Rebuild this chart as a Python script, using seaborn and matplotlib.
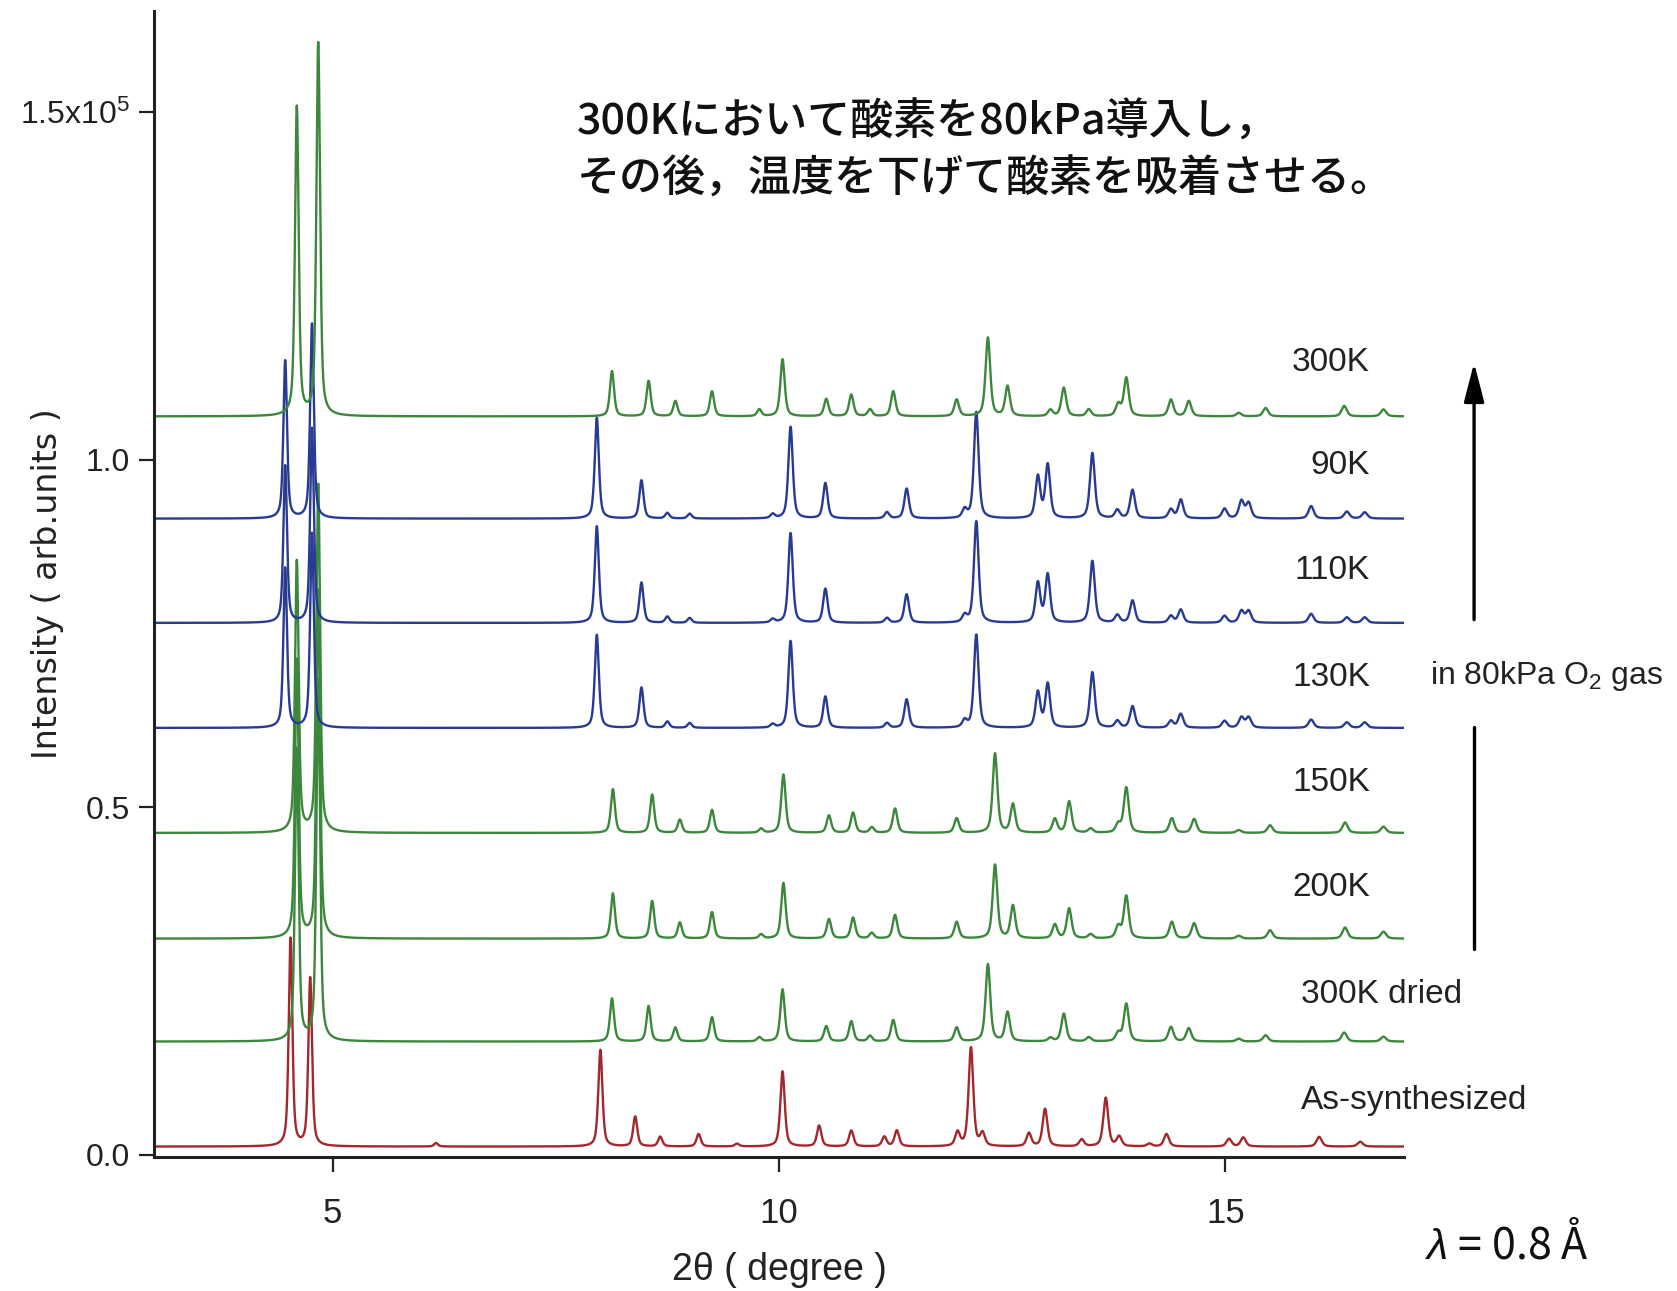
import numpy as np
import pandas as pd
import matplotlib
matplotlib.use("Agg")
import matplotlib.pyplot as plt
from matplotlib.lines import Line2D
import seaborn as sns

# ---------------- data ----------------
samples = ["As-synthesized", "300K dried", "200K", "150K", "130K", "110K", "90K", "300K"]
offsets = [0.012, 0.163, 0.311, 0.463, 0.614, 0.765, 0.915, 1.062]
colors = ["#a3282e", "#3b873b", "#3b873b", "#3b873b", "#283b93", "#283b93", "#283b93", "#3b873b"]

pos_as_syn = [4.53, 4.75, 6.16, 8.00, 8.39, 8.67, 9.10, 9.53, 10.04, 10.45, 10.81, 11.18, 11.32,
              12.00, 12.15, 12.28, 12.80, 12.98, 13.39, 13.66, 13.81, 14.15, 14.34, 15.04, 15.20,
              16.05, 16.51]
amp_as_syn = [0.299, 0.242, 0.005, 0.139, 0.043, 0.014, 0.018, 0.004, 0.108, 0.030, 0.023, 0.014,
              0.023, 0.020, 0.142, 0.018, 0.019, 0.054, 0.010, 0.070, 0.014, 0.004, 0.018, 0.011,
              0.013, 0.014, 0.007]

pos_green_rt = [4.60, 4.84, 8.13, 8.54, 8.84, 9.25, 9.78, 10.04, 10.53, 10.81, 11.02, 11.28, 11.99,
                12.34, 12.56, 13.04, 13.19, 13.47, 13.80, 13.89, 14.39, 14.59, 15.15, 15.45, 16.33,
                16.77]
amp_300K = [0.444, 0.536, 0.065, 0.051, 0.022, 0.036, 0.010, 0.082, 0.025, 0.031, 0.010, 0.036,
            0.024, 0.113, 0.043, 0.009, 0.041, 0.010, 0.017, 0.055, 0.024, 0.022, 0.005, 0.012,
            0.015, 0.010]
amp_dried = [0.42, 0.52, 0.062, 0.051, 0.020, 0.035, 0.006, 0.075, 0.022, 0.029, 0.008, 0.031,
             0.020, 0.111, 0.042, 0.005, 0.040, 0.006, 0.012, 0.054, 0.021, 0.019, 0.004, 0.009,
             0.013, 0.007]

pos_green_lt = [4.60, 4.84, 8.14, 8.58, 8.89, 9.25, 9.80, 10.05, 10.56, 10.83, 11.04, 11.30, 11.99,
                12.42, 12.62, 13.09, 13.25, 13.49, 13.80, 13.89, 14.40, 14.65, 15.15, 15.50, 16.34,
                16.77]
amp_150K = [0.39, 0.50, 0.063, 0.055, 0.019, 0.033, 0.006, 0.084, 0.025, 0.029, 0.008, 0.035,
            0.021, 0.114, 0.041, 0.020, 0.045, 0.006, 0.012, 0.065, 0.021, 0.020, 0.004, 0.011,
            0.015, 0.009]
amp_200K = [0.40, 0.50, 0.065, 0.054, 0.023, 0.038, 0.006, 0.080, 0.028, 0.030, 0.008, 0.034,
            0.024, 0.106, 0.047, 0.020, 0.043, 0.006, 0.017, 0.061, 0.024, 0.022, 0.004, 0.012,
            0.016, 0.010]

pos_blue = [4.47, 4.77, 7.96, 8.46, 8.75, 9.00, 9.93, 10.13, 10.52, 11.21, 11.43, 12.08, 12.21,
            12.90, 13.01, 13.51, 13.79, 13.96, 14.39, 14.50, 14.99, 15.18, 15.26, 15.96, 16.36,
            16.56]
amp_90K = [0.227, 0.28, 0.145, 0.055, 0.008, 0.007, 0.006, 0.132, 0.051, 0.009, 0.043, 0.012,
           0.153, 0.060, 0.077, 0.094, 0.012, 0.041, 0.013, 0.027, 0.014, 0.025, 0.022, 0.018,
           0.010, 0.009]
amp_110K = [0.226, 0.28, 0.139, 0.058, 0.009, 0.007, 0.005, 0.129, 0.049, 0.007, 0.041, 0.010,
            0.146, 0.057, 0.069, 0.089, 0.011, 0.032, 0.010, 0.019, 0.010, 0.017, 0.017, 0.013,
            0.008, 0.008]
amp_130K = [0.23, 0.28, 0.134, 0.058, 0.009, 0.007, 0.005, 0.125, 0.045, 0.007, 0.041, 0.010,
            0.134, 0.051, 0.063, 0.080, 0.010, 0.031, 0.010, 0.020, 0.010, 0.015, 0.015, 0.012,
            0.008, 0.008]

peak_pos = [pos_as_syn, pos_green_rt, pos_green_lt, pos_green_lt, pos_blue, pos_blue, pos_blue, pos_green_rt]
peak_amp = [amp_as_syn, amp_dried, amp_200K, amp_150K, amp_130K, amp_110K, amp_90K, amp_300K]

xticks = [5, 10, 15]
yticks = [0.0, 0.5, 1.0, 1.5]
ytick_labels = ["0.0", "0.5", "1.0", "1.5x10$^5$"]
label_y = [0.078, 0.231, 0.385, 0.536, 0.687, 0.841, 0.991, 1.139]

# ---------------- build curves ----------------
grid = np.linspace(3.0, 17.0, 5601)


def profile(x, c, a):
    w = 0.040 + 0.0018 * c
    lor = 1.0 / (1.0 + ((x - c) / (w / 2)) ** 2)
    gau = np.exp(-4 * np.log(2) * ((x - c) / w) ** 2)
    return a * (0.55 * lor + 0.45 * gau)


frames = []
for name, off, ps, am in zip(samples, offsets, peak_pos, peak_amp):
    y = np.full_like(grid, off)
    for c, a in zip(ps, am):
        y = y + profile(grid, c, a)
    frames.append(pd.DataFrame({"two_theta": grid, "intensity": y, "sample": name}))
df = pd.concat(frames, ignore_index=True)

# ---------------- plot ----------------
sns.set_theme(style="white")
plt.rcParams["font.family"] = ["Liberation Sans", "DejaVu Sans"]
plt.rcParams["mathtext.fontset"] = "custom"
plt.rcParams["mathtext.rm"] = "Liberation Sans"
plt.rcParams["mathtext.it"] = "Liberation Sans:italic"

TXT = "#222222"

fig = plt.figure(figsize=(16.77, 12.91), dpi=100)
ax = fig.add_axes([0.0918, 0.1038, 0.7454, 0.8877])

sns.lineplot(data=df, x="two_theta", y="intensity", hue="sample", hue_order=samples,
             palette=dict(zip(samples, colors)), estimator=None, sort=False, legend=False,
             linewidth=1.7, ax=ax)

ax.set_xlim(3.0, 17.0)
ax.set_ylim(-0.003, 1.645)
for s in ["top", "right"]:
    ax.spines[s].set_visible(False)
for s in ["left", "bottom"]:
    ax.spines[s].set_color(TXT)
    ax.spines[s].set_linewidth(2.2)

ax.set_xticks(xticks)
ax.set_xticklabels([str(t) for t in xticks], fontsize=25)
ax.set_yticks(yticks)
ax.set_yticklabels(ytick_labels, fontsize=23)
ax.tick_params(axis="x", bottom=True, direction="out", length=11, width=1.6, pad=18,
               color=TXT, labelcolor=TXT)
ax.tick_params(axis="y", left=True, direction="out", length=11, width=1.6, pad=6,
               color=TXT, labelcolor=TXT)

ax.set_xlabel("2θ ( degree )", fontsize=27, labelpad=16, color=TXT)
ax.set_ylabel("Intensity ( arb.units )", fontsize=24, family=["DejaVu Sans"], color=TXT)
ax.yaxis.set_label_coords(-0.072, 0.5)

for name, yl in zip(samples, label_y):
    if name in ("As-synthesized", "300K dried"):
        ax.text(15.85, yl, name, ha="left", va="center", fontsize=24, color=TXT)
    else:
        ax.text(16.62, yl, name, ha="right", va="center", fontsize=24, color=TXT)

# annotation text
fig.text(0.344, 0.9053, "300Kにおいて酸素を80kPa導入し，", fontsize=31, fontweight="medium",
         family=["Noto Sans CJK JP", "DejaVu Sans"], va="center", ha="left", color="#111111")
fig.text(0.344, 0.8611, "その後，温度を下げて酸素を吸着させる。", fontsize=31, fontweight="medium",
         family=["Noto Sans CJK JP", "DejaVu Sans"], va="center", ha="left", color="#111111")

fig.text(0.853, 0.4764, "in 80kPa O$_2$ gas", fontsize=23, va="center", ha="left", color=TXT)

fig.text(0.850, 0.035, "$\\lambda$ = 0.8 Å", fontsize=31, va="center", ha="left",
         family=["Noto Sans CJK JP", "DejaVu Sans"], color="#111111")

# arrow
fig.add_artist(Line2D([0.879, 0.879], [0.265, 0.437], transform=fig.transFigure,
                      color="black", linewidth=2.4))
ax.annotate("", xy=(0.879, 0.719), xytext=(0.879, 0.520), xycoords="figure fraction",
            textcoords="figure fraction", annotation_clip=False,
            arrowprops=dict(arrowstyle="-|>,head_length=0.85,head_width=0.22",
                            color="black", lw=2.4, mutation_scale=28, shrinkA=0, shrinkB=0))

fig.savefig("out.png", dpi=100)
